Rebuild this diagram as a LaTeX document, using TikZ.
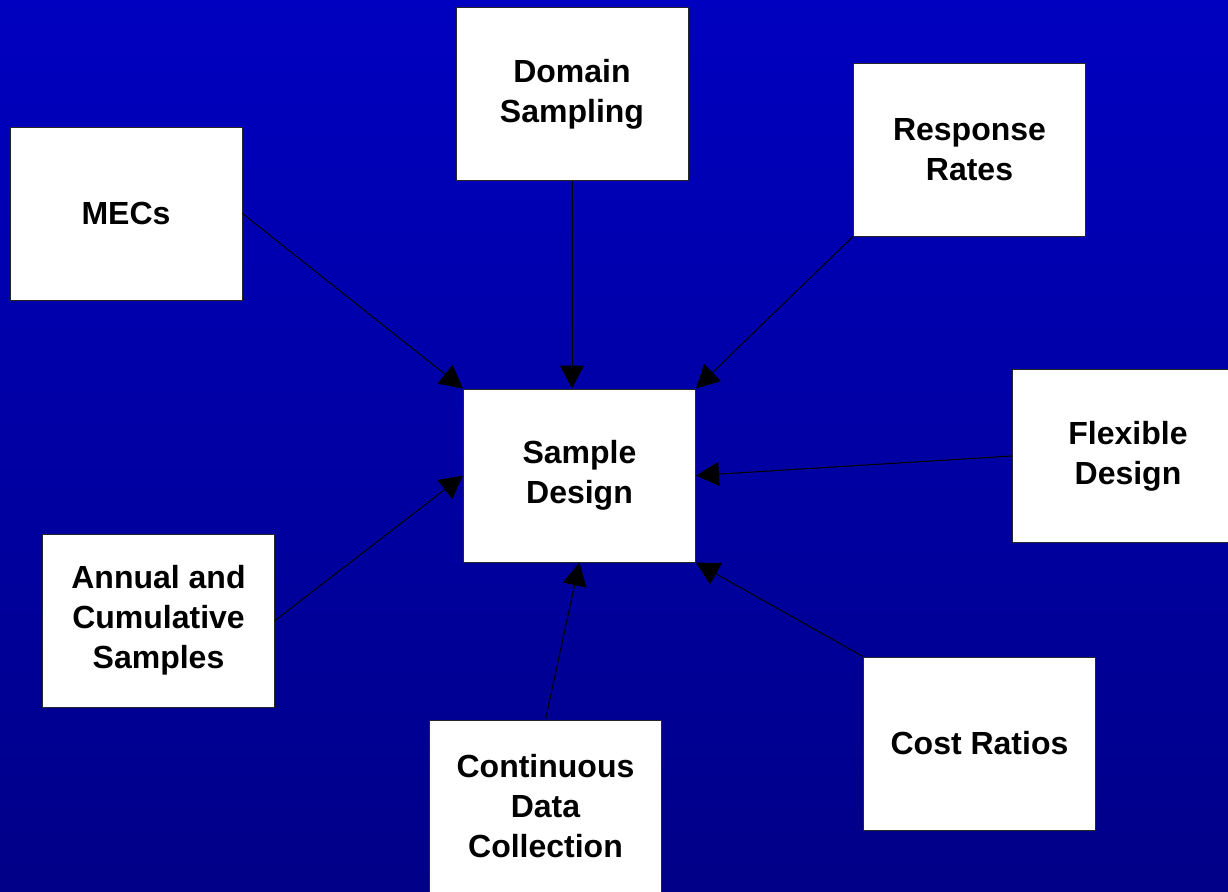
\documentclass[tikz,border=0pt]{standalone}
\usepackage{fontspec}
\setmainfont{Liberation Sans}
\usetikzlibrary{arrows.meta}
\definecolor{bgtop}{RGB}{0,0,192}
\definecolor{bgbottom}{RGB}{0,0,136}
\begin{document}
\begin{tikzpicture}[
  x=0.5pt, y=-0.5pt,
  box/.style={rectangle, draw=black!85, line width=0.5pt, fill=white, minimum width=116pt, minimum height=86.5pt, inner sep=0pt, align=center, font=\bfseries\fontsize{16}{20}\selectfont},
  link/.style={-{Triangle[length=11.5pt,width=12pt]}, line width=0.5pt, black},
]
\clip (0,0) rectangle (1228,891);
\shade[top color=bgtop, bottom color=bgbottom] (0,0) rectangle (1228,891);

\node[box] (sample) at (579.5,475.5) {Sample\\Design};
\node[box] (mecs) at (126,213.5) {MECs};
\node[box] (domain) at (572,94) {Domain\\Sampling};
\node[box] (response) at (969.5,149.5) {Response\\Rates};
\node[box] (flexible) at (1128,456) {Flexible\\Design};
\node[box] (annual) at (158.5,620.5) {Annual and\\Cumulative\\Samples};
\node[box] (continuous) at (545.5,806.5) {Continuous\\Data\\Collection};
\node[box] (cost) at (979.5,743.5) {Cost Ratios};

\draw[link] (mecs.east) -- (sample.north west);
\draw[link] (domain.south) -- (domain.south |- sample.north);
\draw[link] (response.south west) -- (sample.north east);
\draw[link] (flexible.west) -- (sample.east);
\draw[link] (annual.east) -- (sample.west);
\draw[link] (continuous.north) -- (sample.south);
\draw[link] (cost.north west) -- (sample.south east);
\end{tikzpicture}
\end{document}
